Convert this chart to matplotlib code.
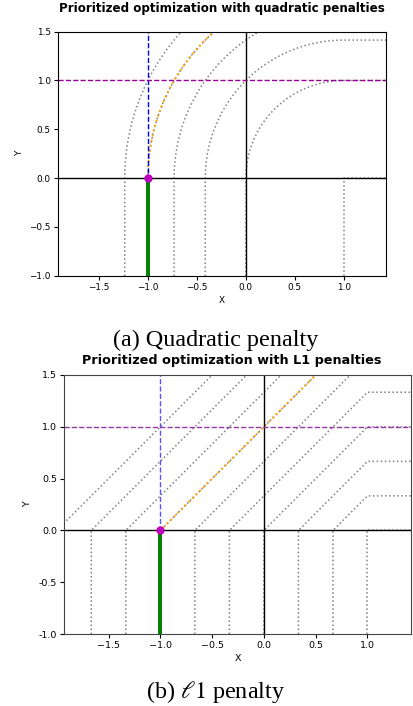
import numpy as np
import matplotlib
matplotlib.use("Agg")
import matplotlib.pyplot as plt

plt.rcParams['mathtext.fontset'] = 'stix'

# level values of the penalty functions (contours drawn in grey)
quad_levels = [0, 1, 2, 3, 4, 5]          # squared distance levels
quad_opt_level = 4                         # level through the optimum (orange)
l1_levels = [0, 1/3, 2/3, 1, 4/3, 5/3, 2, 7/3, 8/3, 3]
l1_opt_level = 2

# priorities / solution
task1_x = -1.0      # first priority: x = -1
task2_y = 1.0       # second priority: y = 1
opt_point = (-1.0, 0.0)
sol_y = [-1.0, 0.0]  # solution segment (green)

titles = ["Prioritized optimization with quadratic penalties",
          "Prioritized optimization with L1 penalties"]
captions = ["(a) Quadratic penalty", r"(b) $\ell 1$ penalty"]
xlims = [(-1.92, 1.43), (-1.93, 1.42)]
ylim = (-1.0, 1.5)
ytick_vals = [-1.0, -0.5, 0.0, 0.5, 1.0, 1.5]
ytick_labels_b = ["-1.0", "-0.5", "0.0", "0.5", "1.0", "1.5"]

W, H = 413, 706
fig = plt.figure(figsize=(W / 100, H / 100), dpi=100)

def box(l, t, r, b):
    return [l / W, 1 - b / H, (r - l) / W, (b - t) / H]

ax1 = fig.add_axes(box(57.7, 31.7, 386, 275.7))
ax2 = fig.add_axes(box(64, 375, 411, 634))


def quad_curve(level, xmax=3.0):
    r = np.sqrt(level)
    t = np.linspace(np.pi, np.pi / 2, 100)
    xs = np.concatenate([[1 - r], 1 + r * np.cos(t), [xmax]])
    ys = np.concatenate([[-2.0], r * np.sin(t), [r]])
    return xs, ys


def l1_curve(level, xmax=3.0):
    xs = [1 - level, 1 - level, 1, xmax]
    ys = [-2.0, 0, level, level]
    return xs, ys


def draw(ax, levels, opt_level, curve, fs, blue, purple, ypad):
    for lv in levels:
        xs, ys = curve(lv)
        ax.plot(xs, ys, ':', color='grey', lw=1.1)
    xs, ys = curve(opt_level)
    ax.plot(xs, ys, ':', color='orange', lw=1.4)
    ax.axhline(0, color='black', lw=1.0)
    ax.axvline(0, color='black', lw=1.0)
    ax.axvline(task1_x, color=blue, ls='--', lw=1.0)
    ax.axhline(task2_y, color=purple, ls='--', lw=1.0)
    ax.plot([task1_x, task1_x], sol_y, color='green', lw=2.8)
    ax.plot(*opt_point, 'o', color='m', ms=5)
    ax.set_ylim(*ylim)
    ax.set_xticks([-1.5, -1.0, -0.5, 0.0, 0.5, 1.0])
    ax.set_yticks(ytick_vals)
    ax.tick_params(labelsize=fs, length=3, width=0.8, pad=2)
    ax.set_xlabel("X", fontsize=fs, labelpad=3)
    ax.set_ylabel("Y", fontsize=fs, labelpad=ypad)


draw(ax1, quad_levels, quad_opt_level, quad_curve, 6.4, 'blue', '#990099', 4)
ax1.set_xlim(*xlims[0])
ax1.set_title(titles[0], fontsize=8.6, fontweight='bold', pad=14)

draw(ax2, l1_levels, l1_opt_level, l1_curve, 6.8, '#5555ff', '#9933aa', 5)
ax2.set_xlim(*xlims[1])
ax2.set_yticklabels(ytick_labels_b)
ax2.set_title(titles[1], fontsize=9.2, fontweight='bold', pad=8,
              x=(231.5 - 64) / (411 - 64))
for sp in ax2.spines.values():
    sp.set_color('#444444')

fig.text(216 / W, 1 - 340 / H, captions[0], fontsize=17.4, family='Liberation Serif',
         ha='center', va='center')
fig.text(216 / W, 1 - 692 / H, captions[1], fontsize=17.4, family='Liberation Serif',
         ha='center', va='center')

fig.savefig("out.png", dpi=100)
